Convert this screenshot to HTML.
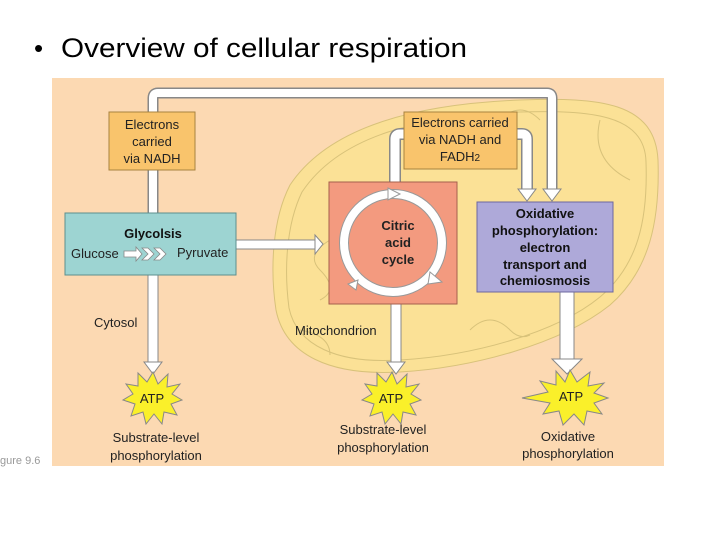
<!DOCTYPE html>
<html><head><meta charset="utf-8"><style>
body{margin:0;background:#fff;width:720px;height:540px;overflow:hidden}
svg text{font-family:"Liberation Sans",sans-serif}
</style></head><body>
<svg width="720" height="540" viewBox="0 0 720 540" xmlns="http://www.w3.org/2000/svg">
<text x="34" y="57" font-size="26" fill="#000">•</text>
<text x="61" y="57" font-size="27" fill="#000" textLength="406" lengthAdjust="spacingAndGlyphs">Overview of cellular respiration</text>
<rect x="52" y="78" width="612" height="388" fill="#FCD9B2"/>
<text x="0" y="464" font-size="11" fill="#999">gure 9.6</text>
<!-- mitochondrion -->
<path d="M290,185 C330,125 420,104 520,100 C600,97 655,102 658,160 C660,220 650,270 610,305 C560,345 470,368 400,372 C330,376 285,355 276,310 C270,270 272,220 290,185 Z" fill="#FBE196" stroke="#D8C27A" stroke-width="1"/>
<path d="M302,192 C340,135 420,116 520,112 C590,110 645,114 646,162 C648,220 638,265 600,297 C555,334 470,356 400,360 C338,364 297,346 289,308 C284,270 286,225 302,192 Z" fill="none" stroke="#D8C27A" stroke-width="1"/>
<path d="M320,300 q20,-10 0,-30 q-15,-15 10,-30 M460,120 q20,20 40,0 q20,-20 40,0 M600,120 q-10,40 30,60 M470,330 q20,-20 40,0 q10,10 20,5 M300,330 q30,5 30,25" fill="none" stroke="#D8C27A"/>
<!-- big loop -->
<path d="M153,213 V98 q0,-5 5,-5 H547 q5,0 5,5 V190" fill="none" stroke="#888" stroke-width="11"/>
<path d="M153,213 V98 q0,-5 5,-5 H547 q5,0 5,5 V190" fill="none" stroke="#fff" stroke-width="8"/>
<polygon points="543,189 561,189 552,201" fill="#fff" stroke="#888"/>
<!-- inner loop -->
<path d="M395,182 V139 q0,-5 5,-5 H522 q5,0 5,5 V190" fill="none" stroke="#888" stroke-width="12"/>
<path d="M395,182 V139 q0,-5 5,-5 H522 q5,0 5,5 V190" fill="none" stroke="#fff" stroke-width="9"/>
<polygon points="518,189 536,189 527,201" fill="#fff" stroke="#888"/>
<!-- down arrows -->
<rect x="148" y="275" width="10" height="88" fill="#fff" stroke="#888"/>
<polygon points="144,362 162,362 153,374" fill="#fff" stroke="#888"/>
<rect x="391" y="304" width="10" height="59" fill="#fff" stroke="#888"/>
<polygon points="387,362 405,362 396,374" fill="#fff" stroke="#888"/>
<rect x="560" y="292" width="14" height="68" fill="#fff" stroke="#888"/>
<polygon points="552,359 582,359 567,374" fill="#fff" stroke="#888"/>
<!-- horizontal -->
<rect x="236" y="240" width="80" height="9" fill="#fff" stroke="#888"/>
<polygon points="315,235 315,254 323,244" fill="#fff" stroke="#888"/>
<!-- boxes -->
<rect x="109" y="112" width="86" height="58" fill="#F9C46C" stroke="#A88340"/>
<text font-size="13" text-anchor="middle" fill="#222"><tspan x="152" y="129">Electrons</tspan><tspan x="152" y="146">carried</tspan><tspan x="152" y="163">via NADH</tspan></text>
<rect x="404" y="112" width="113" height="57" fill="#F9C46C" stroke="#A88340"/>
<text font-size="13" text-anchor="middle" fill="#222"><tspan x="460" y="127">Electrons carried</tspan><tspan x="460" y="144">via NADH and</tspan><tspan x="460" y="161">FADH<tspan font-size="10">2</tspan></tspan></text>
<rect x="65" y="213" width="171" height="62" fill="#9DD4D2" stroke="#5D8F8E"/>
<text x="153" y="238" font-size="13" font-weight="bold" text-anchor="middle" fill="#111">Glycolsis</text>
<text x="71" y="258" font-size="13" fill="#222">Glucose</text>
<text x="177" y="257" font-size="13" fill="#222">Pyruvate</text>
<path d="M124,251 h12 v-4 l6,7 -6,7 v-4 h-12 z M142,248 l6,6 -6,6 h6 l6,-6 -6,-6 z M154,248 l6,6 -6,6 h6 l6,-6 -6,-6 z" fill="#fff" stroke="#888" stroke-width="0.8"/>
<rect x="329" y="182" width="128" height="122" fill="#F39A7F" stroke="#A6604C"/>
<circle cx="393" cy="243" r="49" fill="none" stroke="#999" stroke-width="10"/>
<circle cx="393" cy="243" r="49" fill="none" stroke="#fff" stroke-width="8"/>
<polygon points="388,188 400,194 388,200" fill="#fff" stroke="#999"/>
<polygon points="430,272 442,282 428,284" fill="#fff" stroke="#999"/>
<polygon points="358,280 348,284 356,290" fill="#fff" stroke="#999"/>
<text font-size="13" font-weight="bold" text-anchor="middle" fill="#222"><tspan x="398" y="230">Citric</tspan><tspan x="398" y="247">acid</tspan><tspan x="398" y="264">cycle</tspan></text>
<rect x="477" y="202" width="136" height="90" fill="#AEA9D9" stroke="#6C68A0"/>
<text font-size="13" font-weight="bold" text-anchor="middle" fill="#111"><tspan x="545" y="218">Oxidative</tspan><tspan x="545" y="235">phosphorylation:</tspan><tspan x="545" y="252">electron</tspan><tspan x="545" y="269">transport and</tspan><tspan x="545" y="285">chemiosmosis</tspan></text>
<text x="94" y="327" font-size="13" fill="#222">Cytosol</text>
<text x="295" y="335" font-size="13" fill="#222">Mitochondrion</text>
<!-- stars -->
<g fill="#FAF02A" stroke="#888" stroke-width="1">
<polygon points="153,372 158,384 168,374 167,387 180,384 172,394 182,400 171,404 177,415 164,412 162,424 154,414 146,424 143,412 131,416 135,404 123,400 133,394 126,384 138,386 138,373 147,382"/>
<polygon points="392,372 397,384 407,374 406,387 419,384 411,394 421,400 410,404 416,415 403,412 401,424 393,414 385,424 382,412 370,416 374,404 362,400 372,394 365,384 377,386 377,373 386,382"/>
<polygon points="570,370 577,382 590,372 588,386 604,383 594,393 608,398 594,403 602,414 587,411 584,425 574,414 563,425 559,411 543,414 550,403 522,398 548,392 540,381 556,385 556,371 565,382"/>
</g>
<text x="152" y="403" font-size="13" text-anchor="middle" fill="#222">ATP</text>
<text x="391" y="403" font-size="13" text-anchor="middle" fill="#222">ATP</text>
<text x="571" y="401" font-size="13" text-anchor="middle" fill="#222">ATP</text>
<text font-size="13" text-anchor="middle" fill="#222"><tspan x="156" y="442">Substrate-level</tspan><tspan x="156" y="460">phosphorylation</tspan></text>
<text font-size="13" text-anchor="middle" fill="#222"><tspan x="383" y="434">Substrate-level</tspan><tspan x="383" y="452">phosphorylation</tspan></text>
<text font-size="13" text-anchor="middle" fill="#222"><tspan x="568" y="441">Oxidative</tspan><tspan x="568" y="458">phosphorylation</tspan></text>
</svg>
</body></html>
